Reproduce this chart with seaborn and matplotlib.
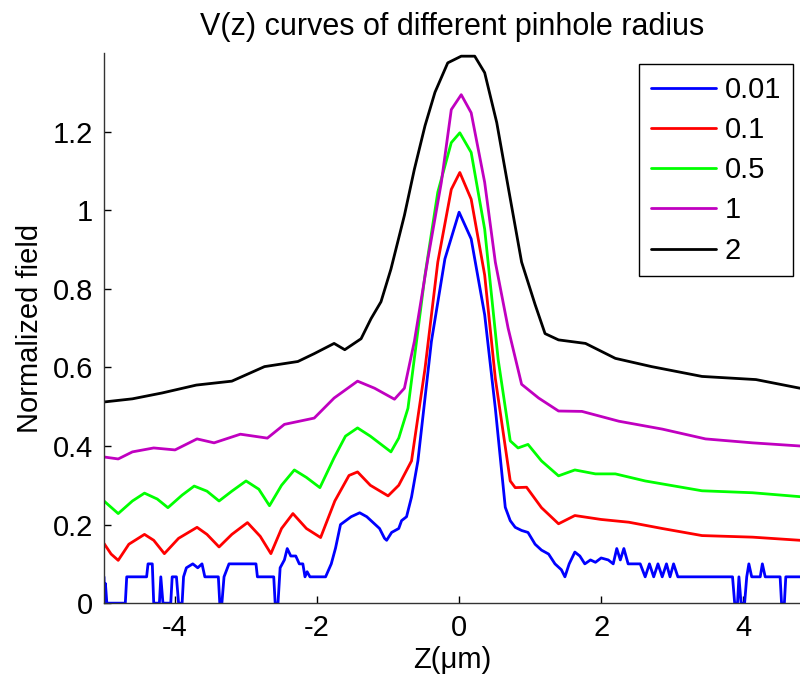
import pandas as pd
import matplotlib
matplotlib.use('Agg')
import matplotlib.pyplot as plt
from matplotlib.ticker import FuncFormatter
import seaborn as sns

# Pinhole radius for each curve and its colour
radius_labels = ['0.01', '0.1', '0.5', '1', '2']
line_colors = ['#0000ff', '#ff0000', '#00ff00', '#c000c0', '#000000']

# V(z) curves: Z in um, normalized field
z_001 = [-5.0, -4.99, -4.98, -4.96, -4.70, -4.68, -4.40, -4.38, -4.32, -4.30, -4.22, -4.20, -4.17,
         -4.06, -4.04, -3.98, -3.95, -3.90, -3.88, -3.84, -3.75, -3.68, -3.62, -3.58, -3.39, -3.37,
         -3.34, -3.31, -3.24, -2.86, -2.84, -2.61, -2.59, -2.55, -2.52, -2.46, -2.42, -2.37, -2.30,
         -2.25, -2.20, -2.17, -2.14, -2.10, -1.88, -1.80, -1.74, -1.67, -1.52, -1.40, -1.30, -1.24,
         -1.12, -1.05, -1.02, -0.95, -0.85, -0.81, -0.74, -0.67, -0.58, -0.39, -0.20, 0.0, 0.17,
         0.36, 0.51, 0.65, 0.72, 0.79, 0.88, 0.97, 1.07, 1.16, 1.26, 1.35, 1.44, 1.49, 1.55, 1.63,
         1.70, 1.77, 1.85, 1.92, 2.0, 2.10, 2.17, 2.22, 2.27, 2.32, 2.38, 2.45, 2.55, 2.62, 2.68,
         2.74, 2.80, 2.86, 2.92, 2.97, 3.02, 3.08, 3.85, 3.88, 3.92, 3.94, 3.97, 4.02, 4.05, 4.08,
         4.12, 4.24, 4.27, 4.31, 4.52, 4.54, 4.58, 4.60, 4.80]
v_001 = [0.067, 0.0, 0.05, 0.0, 0.0, 0.067, 0.067, 0.1, 0.1, 0.0, 0.0, 0.067, 0.0,
         0.0, 0.067, 0.067, 0.0, 0.0, 0.067, 0.09, 0.1, 0.09, 0.1, 0.067, 0.067, 0.0,
         0.0, 0.067, 0.1, 0.1, 0.067, 0.067, 0.0, 0.0, 0.09, 0.11, 0.139, 0.12, 0.12,
         0.1, 0.1, 0.067, 0.08, 0.067, 0.067, 0.1, 0.14, 0.2, 0.22, 0.23, 0.22, 0.21,
         0.19, 0.165, 0.16, 0.18, 0.19, 0.21, 0.22, 0.27, 0.362, 0.666, 0.876, 0.995, 0.927,
         0.734, 0.496, 0.244, 0.21, 0.193, 0.185, 0.18, 0.15, 0.135, 0.125, 0.1, 0.085, 0.067, 0.1, 0.13,
         0.12, 0.1, 0.11, 0.104, 0.115, 0.11, 0.1, 0.139, 0.11, 0.139, 0.1, 0.1, 0.1, 0.067, 0.1,
         0.067, 0.1, 0.067, 0.1, 0.067, 0.1, 0.067, 0.067, 0.0, 0.0, 0.067, 0.0, 0.0, 0.067, 0.1,
         0.067, 0.067, 0.1, 0.067, 0.067, 0.0, 0.0, 0.067, 0.067]

z_01 = [-5.0, -4.9, -4.8, -4.65, -4.43, -4.3, -4.15, -3.95, -3.69, -3.55, -3.38, -3.2, -2.98,
        -2.8, -2.65, -2.5, -2.34, -2.15, -1.95, -1.75, -1.55, -1.43, -1.25, -1.0, -0.85, -0.67,
        -0.48, -0.30, -0.11, 0.01, 0.17, 0.36, 0.51, 0.72, 0.79, 0.95, 1.16, 1.40, 1.63, 2.0,
        2.39, 2.86, 3.42, 4.13, 4.8]
v_01 = [0.152, 0.125, 0.109, 0.15, 0.175, 0.16, 0.126, 0.165, 0.193, 0.175, 0.143, 0.175, 0.205,
        0.17, 0.126, 0.19, 0.228, 0.19, 0.167, 0.26, 0.325, 0.334, 0.30, 0.273, 0.30, 0.362,
        0.597, 0.868, 1.053, 1.096, 1.028, 0.835, 0.572, 0.311, 0.294, 0.295, 0.243, 0.202, 0.223, 0.213,
        0.206, 0.19, 0.172, 0.168, 0.16]

z_05 = [-5.0, -4.8, -4.6, -4.43, -4.25, -4.1, -3.9, -3.73, -3.55, -3.38, -3.2, -3.0, -2.82,
        -2.67, -2.5, -2.32, -2.15, -1.96, -1.76, -1.6, -1.43, -1.25, -0.96, -0.85, -0.72, -0.48,
        -0.30, -0.11, 0.01, 0.17, 0.36, 0.55, 0.72, 0.83, 0.97, 1.16, 1.40, 1.63, 1.92, 2.2,
        2.62, 3.42, 4.13, 4.8]
v_05 = [0.26, 0.228, 0.26, 0.28, 0.265, 0.243, 0.275, 0.298, 0.285, 0.26, 0.285, 0.311, 0.29,
        0.248, 0.3, 0.339, 0.32, 0.294, 0.37, 0.425, 0.446, 0.425, 0.385, 0.42, 0.496, 0.835,
        1.046, 1.172, 1.197, 1.147, 0.952, 0.62, 0.413, 0.395, 0.404, 0.362, 0.324, 0.339, 0.329, 0.329,
        0.311, 0.286, 0.281, 0.271]

z_1 = [-5.0, -4.8, -4.6, -4.3, -4.0, -3.69, -3.45, -3.08, -2.70, -2.46, -2.04, -1.76, -1.43,
       -1.19, -0.91, -0.77, -0.63, -0.44, -0.25, -0.11, 0.03, 0.17, 0.36, 0.51, 0.69, 0.88,
       1.12, 1.40, 1.73, 2.25, 2.86, 3.47, 4.13, 4.8]
v_1 = [0.372, 0.367, 0.385, 0.395, 0.39, 0.418, 0.408, 0.43, 0.42, 0.455, 0.471, 0.522, 0.565,
       0.547, 0.519, 0.547, 0.666, 0.876, 1.071, 1.256, 1.294, 1.248, 1.071, 0.868, 0.70, 0.557,
       0.522, 0.489, 0.488, 0.463, 0.443, 0.418, 0.408, 0.40]

z_2 = [-5.0, -4.6, -4.18, -3.7, -3.2, -2.74, -2.27, -2.04, -1.76, -1.61, -1.38, -1.24, -1.10,
       -0.96, -0.77, -0.63, -0.48, -0.34, -0.16, 0.03, 0.22, 0.36, 0.53, 0.70, 0.88, 1.07,
       1.21, 1.40, 1.78, 2.2, 2.71, 3.42, 4.18, 4.8]
v_2 = [0.512, 0.52, 0.535, 0.555, 0.565, 0.602, 0.615, 0.635, 0.661, 0.645, 0.673, 0.724, 0.767,
       0.85, 0.987, 1.104, 1.215, 1.30, 1.375, 1.392, 1.392, 1.35, 1.223, 1.05, 0.868, 0.76,
       0.686, 0.67, 0.661, 0.623, 0.602, 0.577, 0.569, 0.547]

z_all = [z_001, z_01, z_05, z_1, z_2]
v_all = [v_001, v_01, v_05, v_1, v_2]

frames = []
for lab, z, v in zip(radius_labels, z_all, v_all):
    frames.append(pd.DataFrame({'z': z, 'v': v, 'radius': lab}))
df = pd.concat(frames, ignore_index=True)

sns.set_style('ticks')
plt.rcParams['font.family'] = ['Liberation Sans', 'DejaVu Sans']
plt.rcParams['axes.unicode_minus'] = False
plt.rcParams['text.color'] = 'black'
plt.rcParams['axes.labelcolor'] = 'black'

fig = plt.figure(figsize=(8, 6.8), dpi=100)
ax = fig.add_axes([0.13, 0.113, 0.87, 0.809])

sns.lineplot(data=df, x='z', y='v', hue='radius', hue_order=radius_labels,
             palette=dict(zip(radius_labels, line_colors)), estimator=None, sort=False,
             linewidth=2, ax=ax)

ax.set_xlim(-5, 4.8)
ax.set_ylim(0, 1.4)
ax.set_xticks([-4, -2, 0, 2, 4])
ax.set_yticks([0, 0.2, 0.4, 0.6, 0.8, 1.0, 1.2])
ax.yaxis.set_major_formatter(FuncFormatter(lambda v, p: '%g' % v))
ax.tick_params(direction='in', length=5, width=1, labelsize=21, pad=8, colors='black')
for s in ['top', 'right']:
    ax.spines[s].set_visible(False)
for s in ['left', 'bottom']:
    ax.spines[s].set_linewidth(1)
    ax.spines[s].set_color('#333333')

ax.set_title('V(z) curves of different pinhole radius', fontsize=22, pad=13)
ax.set_xlabel('Z(μm)', fontsize=21, labelpad=3)
ax.set_ylabel('Normalized field', fontsize=21, labelpad=6)

leg = ax.legend(loc='upper right', bbox_to_anchor=(0.99, 0.98), borderaxespad=0,
                fontsize=21, frameon=True, fancybox=False, handlelength=2.25,
                handletextpad=0.3, labelspacing=0.42, borderpad=0.4)
leg.get_frame().set_edgecolor('black')
leg.get_frame().set_linewidth(1)
leg.get_frame().set_alpha(1)

fig.savefig('out.png', dpi=100)
